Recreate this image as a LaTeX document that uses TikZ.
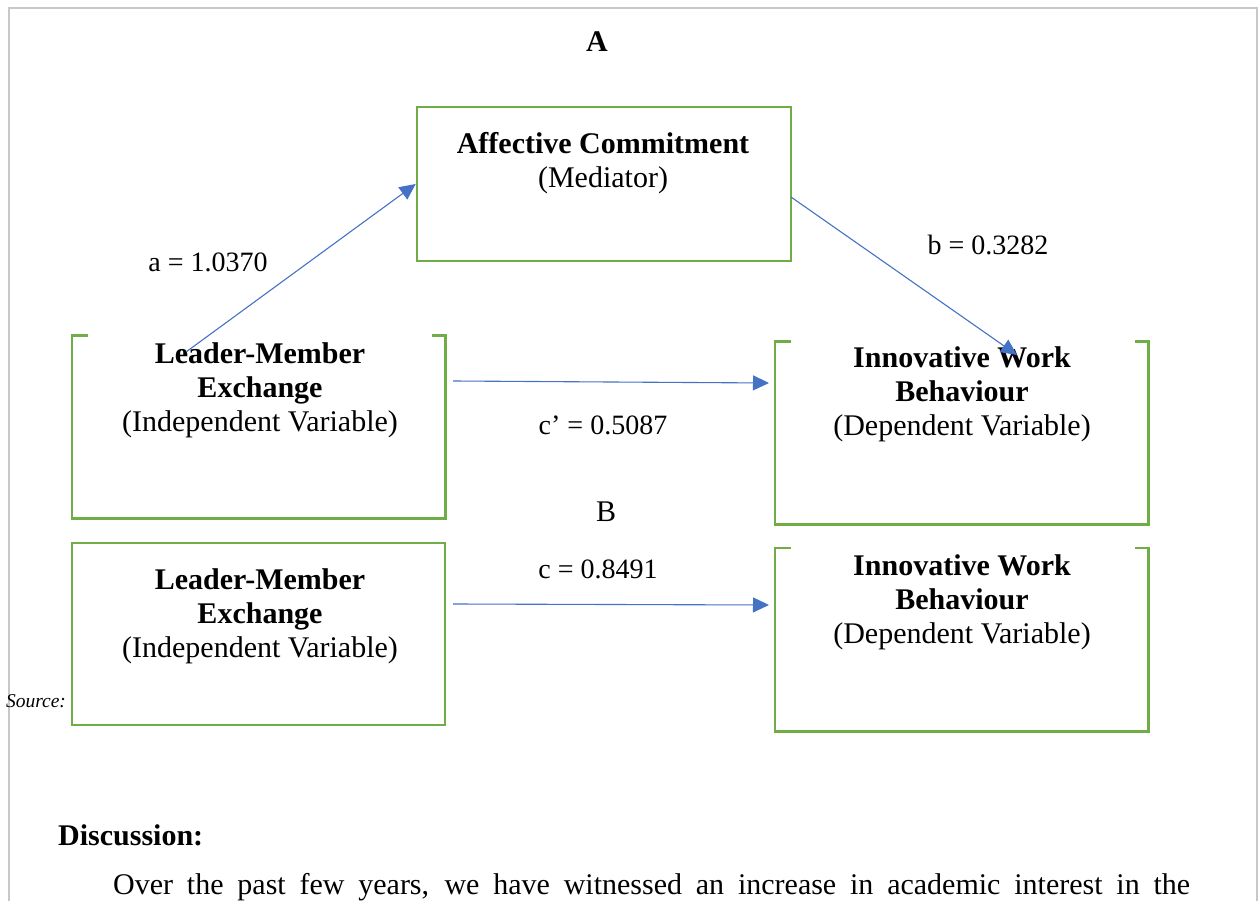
\documentclass[tikz,border=0pt]{standalone}
\usepackage{fontspec}
\setmainfont{Liberation Serif}
\usetikzlibrary{arrows.meta}
\definecolor{boxgreen}{HTML}{70AD47}
\definecolor{pathblue}{HTML}{4472C4}
\definecolor{framegray}{HTML}{C8C8C8}
\tikzset{
  varbox/.style={rectangle,inner sep=0pt,minimum width=373pt,minimum height=182pt},
  closedbox/.style={varbox,draw=boxgreen,line width=2.6pt},
  openline/.style={draw=boxgreen,line width=2.6pt,line join=miter},
  vartext/.style={anchor=north,align=center,inner sep=0pt,font=\fontsize{30}{34}\selectfont},
  coef/.style={inner sep=0pt,font=\fontsize{28}{32}\selectfont},
  patharrow/.style={draw=pathblue,line width=1.1pt,-{Triangle[length=16pt,width=15pt]}}
}
\begin{document}
\begin{tikzpicture}[x=1pt,y=-1pt]
\useasboundingbox (0,0) rectangle (1259,901);
% page frame
\draw[framegray,line width=2pt] (9,901) -- (9,8) -- (1257,8) -- (1257,901);
% panel A
\node[coef,font=\fontsize{30}{34}\selectfont\bfseries] (titleA) at (597,42) {A};
\node[closedbox,minimum width=374pt,minimum height=154pt] (ac) at (604,184) {};
\node[varbox] (lmxA) at (258.5,427) {};
\node[varbox] (iwbA) at (961.5,433) {};
\node[vartext] (acText) at (603,132) {\textbf{Affective Commitment}\\(Mediator)};
\node[vartext] (lmxAText) at (260,342) {\textbf{Leader-Member}\\\textbf{Exchange}\\(Independent Variable)};
\node[vartext] (iwbAText) at (962,346) {\textbf{Innovative Work}\\\textbf{Behaviour}\\(Dependent Variable)};
% panel B
\node[coef,font=\fontsize{30}{34}\selectfont] (titleB) at (606,512) {B};
\node[closedbox] (lmxB) at (258.5,634) {};
\node[varbox,minimum height=183pt] (iwbB) at (961.5,639.5) {};
\node[vartext] (lmxBText) at (260,568) {\textbf{Leader-Member}\\\textbf{Exchange}\\(Independent Variable)};
\node[vartext] (iwbBText) at (962,554) {\textbf{Innovative Work}\\\textbf{Behaviour}\\(Dependent Variable)};
% open-topped boxes
\foreach \b in {lmxA,iwbA,iwbB}
	\draw[openline] ([xshift=16pt]\b.north west) -- (\b.north west) -- (\b.south west)
		-- (\b.south east) -- (\b.north east) -- ([xshift=-13pt]\b.north east);
% arrow ends
\coordinate (aStart) at (186,352);
\coordinate (bStart) at (791,197);
\coordinate (bEnd) at (1017,355);
\coordinate (cpStart) at (453,381);
\coordinate (cpEnd) at (769,383);
\coordinate (cStart) at (453,604);
\coordinate (cEnd) at (769,605);
\draw[patharrow] (aStart) -- (ac.west);
\draw[patharrow] (bStart) -- (bEnd);
\draw[patharrow] (cpStart) -- (cpEnd);
\draw[patharrow] (cStart) -- (cEnd);
% coefficients
\node[coef] (aLab) at (208,262) {a = 1.0370};
\node[coef] (bLab) at (988,245) {b = 0.3282};
\node[coef] (cpLab) at (603,425) {c’ = 0.5087};
\node[coef] (cLab) at (598,569) {c = 0.8491};
% text around the figure
\node[coef,font=\fontsize{19.5}{22}\selectfont\itshape] (srcLab) at (36,701) {Source:};
\node[coef,anchor=west,font=\fontsize{30}{34}\selectfont\bfseries] (discLab) at (58,835) {Discussion:};
\node[coef,anchor=west,font=\fontsize{30}{34}\selectfont] (bodyLine) at (113,887)
	{\makebox[1077pt][s]{Over the past few years, we have witnessed an increase in academic interest in the}};
\end{tikzpicture}
\end{document}
